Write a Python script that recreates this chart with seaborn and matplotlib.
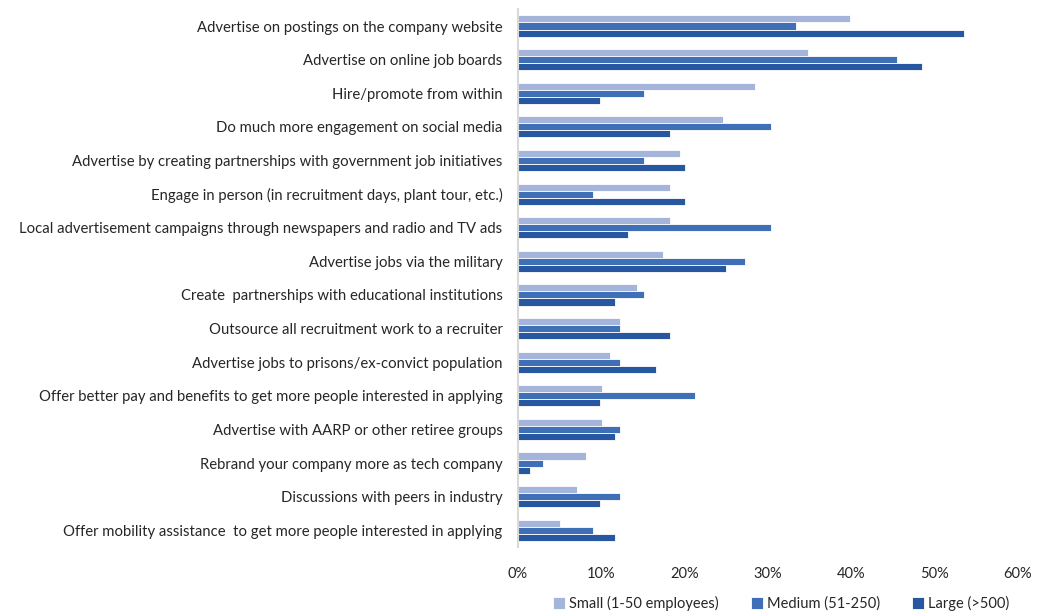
import matplotlib.pyplot as plt
import matplotlib.ticker as mtick
import pandas as pd
import seaborn as sns

categories = [
    "Advertise on postings on the company website",
    "Advertise on online job boards",
    "Hire/promote from within",
    "Do much more engagement on social media",
    "Advertise by creating partnerships with government job initiatives",
    "Engage in person (in recruitment days, plant tour, etc.)",
    "Local advertisement campaigns through newspapers and radio and TV ads",
    "Advertise jobs via the military",
    "Create  partnerships with educational institutions",
    "Outsource all recruitment work to a recruiter",
    "Advertise jobs to prisons/ex-convict population",
    "Offer better pay and benefits to get more people interested in applying",
    "Advertise with AARP or other retiree groups",
    "Rebrand your company more as tech company",
    "Discussions with peers in industry",
    "Offer mobility assistance  to get more people interested in applying",
]
series = ["Small (1-50 employees)", "Medium (51-250)", "Large (>500)"]
small = [39.8, 34.8, 28.5, 24.6, 19.4, 18.3, 18.3, 17.4, 14.3, 12.2, 11.1, 10.1, 10.1, 8.2, 7.1, 5.1]
medium = [33.4, 45.5, 15.1, 30.4, 15.1, 9.0, 30.4, 27.3, 15.1, 12.2, 12.2, 21.2, 12.2, 3.0, 12.2, 9.0]
large = [53.5, 48.5, 9.9, 18.3, 20.0, 20.0, 13.2, 25.0, 11.6, 18.3, 16.6, 9.9, 11.6, 1.5, 9.9, 11.6]
colors = ["#A5B4DB", "#3F6FB6", "#2657A0"]

rows = []
for name, vals in zip(series, [small, medium, large]):
    for cat, v in zip(categories, vals):
        rows.append({"category": cat, "size": name, "value": v / 100})
df = pd.DataFrame(rows)

sns.set_style("white")
plt.rcParams["font.family"] = ["Lato", "DejaVu Sans"]

fig = plt.figure(figsize=(10.42, 6.14), dpi=100)
ax = fig.add_axes([0.497, 0.109, 0.48, 0.876])

sns.barplot(
    data=df, y="category", x="value", hue="size", order=categories,
    hue_order=series, palette=colors, saturation=1, orient="h", width=0.63,
    edgecolor="white", linewidth=0.6, ax=ax
)

ax.set_xlim(0, 0.6)
ax.set_xticks([0, 0.1, 0.2, 0.3, 0.4, 0.5, 0.6])
ax.xaxis.set_major_formatter(mtick.PercentFormatter(1.0, decimals=0))
ax.set_xlabel("")
ax.set_ylabel("")
ax.tick_params(axis="y", length=0, pad=11, labelsize=10.7, labelcolor="#262626")
ax.tick_params(axis="x", length=0, pad=14, labelsize=10.5, labelcolor="#262626")
for s in ["top", "right", "bottom"]:
    ax.spines[s].set_visible(False)
ax.spines["left"].set_color("#D9D9D9")
ax.spines["left"].set_linewidth(1.5)

ax.legend_.remove()
handles, labels = ax.get_legend_handles_labels()
fig.legend(
    handles, labels, loc="center", bbox_to_anchor=(0.75, 0.017), ncol=3,
    frameon=False, fontsize=10.5, handlelength=0.8, handleheight=0.8,
    handletextpad=0.3, columnspacing=2.2, labelcolor="#262626"
)

fig.savefig("out.png", dpi=100)
